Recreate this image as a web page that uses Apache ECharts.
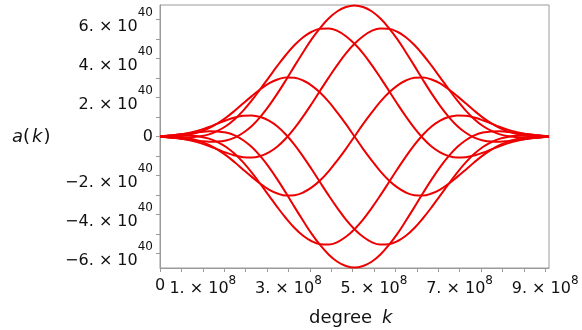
<!DOCTYPE html>
<html><head><meta charset="utf-8">
<script src="https://cdn.jsdelivr.net/npm/echarts@6/dist/echarts.min.js"></script>
<style>html,body{margin:0;padding:0;background:#fff}#c{width:582px;height:330px}</style>
</head><body><div id="c"></div>
<script>
// degree k, in units of 1e8
const degreeK = [0, 0.145,0.345,0.545,0.745,0.945,1.145,1.345,1.545,1.745,1.945,2.145,2.345,2.545,2.745,2.945,3.145,3.345,3.545,3.745,3.945,4.145,4.345,4.545,4.745,4.945,5.145,5.345,5.545,5.745,5.945,6.145,6.345,6.545,6.745,6.945,7.145,7.345,7.545,7.745,7.945,8.145,8.345,8.545,8.745,8.945, 9.09];
// a(k), in units of 1e40, one array per visible curve
const curve0 = [0, -0.04,-0.08,-0.13,-0.18,-0.23,-0.27,-0.26,-0.20,-0.06,0.19,0.54,1.01,1.57,2.21,2.90,3.62,4.32,4.99,5.57,6.06,6.42,6.64, 6.72, 6.64,6.42,6.06,5.57,4.99,4.32,3.62,2.90,2.21,1.57,1.01,0.54,0.19,-0.06,-0.20,-0.26,-0.27,-0.23,-0.18,-0.13,-0.08,-0.04, 0];
const curve1 = [0, -0.03,-0.05,-0.05,-0.04,0.01,0.11,0.29,0.54,0.89,1.33,1.85,2.43,3.03,3.63,4.19,4.69,5.09,5.37,5.52,5.54,5.41,5.14, 4.75, 4.26,3.67,3.03,2.36,1.68,1.03,0.43,-0.09,-0.51,-0.81,-1.00,-1.08,-1.06,-0.97,-0.83,-0.66,-0.49,-0.34,-0.22,-0.13,-0.07,-0.03, 0];
const curve2 = [0, 0.00,0.01,0.05,0.13,0.25,0.43,0.67,0.97,1.32,1.70,2.07,2.42,2.72,2.92,3.03,3.01,2.87,2.61,2.24,1.77,1.22,0.63, 0, -0.63,-1.22,-1.77,-2.24,-2.61,-2.87,-3.01,-3.03,-2.92,-2.72,-2.42,-2.07,-1.70,-1.32,-0.97,-0.67,-0.43,-0.25,-0.13,-0.05,-0.01,0.00, 0];
const curve3 = [0, 0.03,0.07,0.13,0.22,0.34,0.49,0.66,0.83,0.97,1.06,1.08,1.00,0.81,0.51,0.09,-0.43,-1.03,-1.68,-2.36,-3.03,-3.67,-4.26, -4.75, -5.14,-5.41,-5.54,-5.52,-5.37,-5.09,-4.69,-4.19,-3.63,-3.03,-2.43,-1.85,-1.33,-0.89,-0.54,-0.29,-0.11,-0.01,0.04,0.05,0.05,0.03, 0];
const curve4 = [0, 0.04,0.08,0.13,0.18,0.23,0.27,0.26,0.20,0.06,-0.19,-0.54,-1.01,-1.57,-2.21,-2.90,-3.62,-4.32,-4.99,-5.57,-6.06,-6.42,-6.64, -6.72, -6.64,-6.42,-6.06,-5.57,-4.99,-4.32,-3.62,-2.90,-2.21,-1.57,-1.01,-0.54,-0.19,0.06,0.20,0.26,0.27,0.23,0.18,0.13,0.08,0.04, 0];
const curve5 = [0, 0.03,0.05,0.05,0.04,-0.01,-0.11,-0.29,-0.54,-0.89,-1.33,-1.85,-2.43,-3.03,-3.63,-4.19,-4.69,-5.09,-5.37,-5.52,-5.54,-5.41,-5.14, -4.75, -4.26,-3.67,-3.03,-2.36,-1.68,-1.03,-0.43,0.09,0.51,0.81,1.00,1.08,1.06,0.97,0.83,0.66,0.49,0.34,0.22,0.13,0.07,0.03, 0];
const curve6 = [0, 0.00,-0.01,-0.05,-0.13,-0.25,-0.43,-0.67,-0.97,-1.32,-1.70,-2.07,-2.42,-2.72,-2.92,-3.03,-3.01,-2.87,-2.61,-2.24,-1.77,-1.22,-0.63, 0, 0.63,1.22,1.77,2.24,2.61,2.87,3.01,3.03,2.92,2.72,2.42,2.07,1.70,1.32,0.97,0.67,0.43,0.25,0.13,0.05,0.01,0.00, 0];
const curve7 = [0, -0.03,-0.07,-0.13,-0.22,-0.34,-0.49,-0.66,-0.83,-0.97,-1.06,-1.08,-1.00,-0.81,-0.51,-0.09,0.43,1.03,1.68,2.36,3.03,3.67,4.26, 4.75, 5.14,5.41,5.54,5.52,5.37,5.09,4.69,4.19,3.63,3.03,2.43,1.85,1.33,0.89,0.54,0.29,0.11,0.01,-0.04,-0.05,-0.05,-0.03, 0];
const curves = [curve0, curve1, curve2, curve3, curve4, curve5, curve6, curve7];

// axis ticks and labels (x in 1e8, y in 1e40)
const xTickValues = [0,0.5,1,1.5,2,2.5,3,3.5,4,4.5,5,5.5,6,6.5,7,7.5,8,8.5,9];
const xLabelValues = [0,1,3,5,7,9];
const xExponent = '8';
const yTickValues = [-6,-5,-4,-3,-2,-1,0,1,2,3,4,5,6];
const yLabelValues = [-6,-4,-2,0,2,4,6];
const yExponent = '40';
const xRange = [0, 9.09];
const yRange = [-6.74, 6.74];

const FONT = 'DejaVu Sans';
const TXT = '#111';
const AX = '#9a9a9a';
const RED = '#ee0000';

const chart = echarts.init(document.getElementById('c'), null, {renderer: 'canvas'});

const mant = v => (v < 0 ? '\u2212' : '') + Math.abs(v) + '. \u00d7 10';

chart.setOption({
  animation: false,
  grid: {left: 160, right: 33, top: 5, bottom: 62, show: true, borderColor: AX, borderWidth: 1, containLabel: false},
  xAxis: {
    type: 'value', min: xRange[0], max: xRange[1],
    axisLine: {show: true, onZero: false, lineStyle: {color: AX, width: 1}},
    splitLine: {show: false},
    axisTick: {show: true, customValues: xTickValues, length: 4, lineStyle: {color: AX}},
    axisLabel: {
      customValues: xLabelValues, margin: 10,
      formatter: v => v === 0 ? '{z|0}' : '{b|' + mant(v) + '}{s|' + xExponent + '}',
      rich: {
        b: {fontFamily: FONT, fontSize: 16, lineHeight: 16, color: TXT, padding: [6, 0, 0, 0]},
        s: {fontFamily: FONT, fontSize: 12, lineHeight: 12, color: TXT, padding: [0, 0, 10, 0]},
        z: {fontFamily: FONT, fontSize: 16, lineHeight: 16, color: TXT}
      }
    }
  },
  yAxis: {
    type: 'value', min: yRange[0], max: yRange[1],
    axisLine: {show: true, onZero: false, lineStyle: {color: AX, width: 1}},
    splitLine: {show: false},
    axisTick: {show: true, customValues: yTickValues, length: 4, lineStyle: {color: AX}},
    axisLabel: {
      customValues: yLabelValues, margin: 7,
      formatter: v => v === 0 ? '{z|0}' : '{b|' + mant(v) + '}{s|' + yExponent + '}',
      rich: {
        b: {fontFamily: FONT, fontSize: 16, lineHeight: 16, color: TXT, padding: [15, 0, 0, 0]},
        s: {fontFamily: FONT, fontSize: 12, lineHeight: 12, color: TXT, padding: [2.5, 0, 16.5, 0]},
        z: {fontFamily: FONT, fontSize: 16, lineHeight: 16, color: TXT}
      }
    }
  },
  graphic: [
    {type: 'text', left: 12, top: 128, style: {
      text: '{i|a}{n|(}{k|k}{n|)}', fill: TXT,
      rich: {
        i: {fontFamily: FONT, fontSize: 18, fontStyle: 'italic', fill: TXT},
        k: {fontFamily: FONT, fontSize: 18, fontStyle: 'italic', fill: TXT, padding: [0, 1, 0, 2]},
        n: {fontFamily: FONT, fontSize: 18, fill: TXT}
      }
    }},
    {type: 'text', left: 309, top: 309, style: {
      text: '{n|degree}{i|k}', fill: TXT,
      rich: {
        n: {fontFamily: FONT, fontSize: 18, fill: TXT},
        i: {fontFamily: FONT, fontSize: 18, fontStyle: 'italic', fill: TXT, padding: [0, 0, 0, 10]}
      }
    }}
  ],
  series: curves.map((c, i) => ({
    type: 'line', name: 'a' + i,
    data: degreeK.map((k, j) => [k, c[j]]),
    smooth: 0.4, showSymbol: false, symbol: 'none',
    lineStyle: {color: RED, width: 2},
    silent: true
  }))
});
</script></body></html>
